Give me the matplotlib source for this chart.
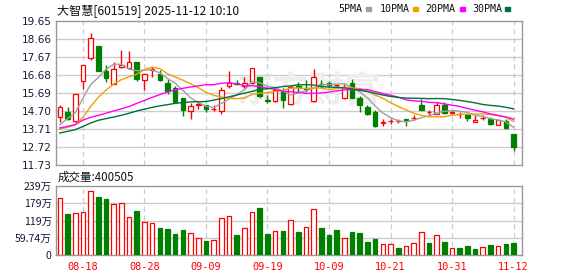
import matplotlib
matplotlib.use('Agg')
import matplotlib.pyplot as plt
from matplotlib.patches import Rectangle
import numpy as np
import pandas as pd

plt.rcParams['font.family'] = ['DejaVu Sans']

# ---------------- data ----------------
title_text = '大智慧[601519] 2025-11-12 10:10'
vol_title = '成交量:400505'

opens = [14.39, 14.63, 14.15, 16.35, 17.64, 18.26, 16.88, 16.21, 17.12, 17.06,
         17.39, 16.41, 16.93, 16.75, 16.24, 15.98, 15.40, 14.72, 15.05, 15.05,
         14.80, 14.72, 16.09, 16.22, 16.09, 16.26, 16.55, 15.29, 15.25, 15.82,
         15.09, 16.06, 15.98, 15.25, 16.21, 16.22, 16.11, 15.40, 16.26, 15.40,
         14.94, 14.63, 14.06, 14.13, 14.14, 14.25, 14.32, 15.01, 14.62, 14.55,
         15.01, 14.60, 14.54, 14.46, 14.10, 14.31, 14.28, 13.91, 14.13, 13.42]
highs = [15.01, 14.90, 15.66, 17.22, 18.99, 18.26, 17.22, 17.39, 18.08, 17.99,
         17.39, 16.75, 17.10, 16.93, 16.44, 16.05, 15.43, 15.12, 15.21, 15.05,
         15.03, 16.00, 16.92, 16.41, 16.55, 17.08, 16.55, 15.58, 15.98, 15.98,
         16.13, 16.31, 16.41, 17.00, 16.41, 16.35, 16.20, 16.17, 16.44, 15.53,
         15.03, 14.76, 14.25, 14.28, 14.26, 14.25, 14.46, 15.34, 14.74, 15.20,
         15.20, 14.70, 14.65, 14.50, 14.50, 14.46, 14.37, 14.22, 14.24, 13.45]
lows = [14.08, 14.23, 14.12, 15.90, 17.53, 16.90, 16.30, 16.21, 17.08, 17.01,
        16.35, 15.84, 16.57, 16.35, 15.66, 15.15, 14.44, 14.26, 14.81, 14.66,
        14.72, 14.54, 15.95, 16.13, 15.95, 16.17, 15.40, 15.12, 15.21, 14.85,
        15.03, 15.76, 15.76, 15.18, 15.95, 15.95, 15.95, 15.36, 15.43, 14.66,
        14.48, 13.80, 13.90, 13.98, 14.02, 13.86, 14.22, 14.74, 14.50, 14.52,
        14.52, 14.52, 14.32, 14.13, 14.10, 14.22, 13.91, 13.91, 13.73, 12.48]
closes = [14.93, 14.26, 15.64, 17.22, 18.70, 16.90, 16.52, 17.01, 17.21, 17.39,
          16.44, 16.73, 17.01, 16.41, 15.81, 15.18, 14.76, 14.99, 15.09, 14.81,
          14.82, 15.86, 16.24, 16.17, 16.26, 17.08, 15.50, 15.26, 15.86, 15.31,
          16.00, 16.02, 15.89, 16.56, 16.17, 16.13, 16.15, 16.00, 15.43, 15.03,
          14.54, 13.88, 14.08, 14.15, 14.16, 14.23, 14.34, 14.77, 14.64, 15.05,
          14.57, 14.62, 14.56, 14.30, 14.22, 14.33, 13.97, 14.22, 13.78, 12.72]
volumes_wan = [196, 143, 145, 149, 222, 202, 194, 177, 180, 131,
               152, 114, 111, 93.5, 90, 74, 87, 76, 59, 48.5,
               52, 127, 134, 69, 92, 148, 163, 73, 82, 83,
               120, 80, 96, 158, 93.5, 69, 87, 58, 80, 76,
               46, 55, 37, 37, 24, 30, 41.5, 80, 41.5, 69,
               45, 24, 24, 31, 21, 27, 35, 31, 38, 40.0505]
vol_up = [1, 0, 1, 1, 1, 0, 0, 1, 1, 1,
          0, 1, 1, 0, 0, 0, 0, 1, 1, 0,
          1, 1, 1, 0, 1, 1, 0, 0, 1, 0,
          1, 0, 1, 1, 0, 0, 0, 1, 0, 0,
          0, 0, 1, 1, 0, 1, 1, 1, 0, 1,
          0, 1, 0, 0, 0, 1, 0, 1, 0, 0]

# moving-average values read from the chart where the window is not yet full
ma5_head = [13.95, 14.28, 14.60, 15.40]
ma10_head = [13.72, 13.80, 13.95, 14.35, 14.95, 15.45, 15.85, 16.18, 16.42]
ma20_head = [13.77, 13.85, 13.95, 14.20, 14.35, 14.46, 14.58, 14.70, 14.82, 14.95,
             15.12, 15.28, 15.45, 15.60, 15.75, 15.86, 15.95, 16.02, 16.08]
ma30_head = [13.49, 13.58, 13.67, 13.85, 14.04, 14.19, 14.28, 14.37, 14.46, 14.58,
             14.70, 14.80, 14.90, 14.98, 15.05, 15.12, 15.17, 15.20, 15.21, 15.22,
             15.30, 15.38, 15.48, 15.58, 15.68, 15.78, 15.88, 15.93, 15.98]

tick_pos = [3, 11, 19, 27, 35, 43, 51, 59]
tick_labels = ['08-18', '08-28', '09-09', '09-19', '10-09', '10-21', '10-31', '11-12']
price_ticks = [19.65, 18.66, 17.67, 16.68, 15.69, 14.70, 13.71, 12.72, 11.73]
vol_ticks = [0, 597400, 1194800, 1792200, 2389600]
vol_tick_labels = ['0', '59.74万', '119万', '179万', '239万']
legend_names = ['5PMA', '10PMA', '20PMA', '30PMA']
watermark = '东方财富'

# ---------------- styles ----------------
RED = '#ff0000'
GREEN = '#008000'
MA_COLORS = ['#a0a0a0', '#f0a000', '#ff00ff', '#006f3c']
GRID = '#cccccc'
FRAME = '#999999'
LABEL = '#1a1a3a'
CJK = ['Noto Sans CJK SC', 'DejaVu Sans']

W, H = 578, 276
fig = plt.figure(figsize=(W / 100, H / 100), dpi=100)
fig.patch.set_facecolor('white')

L, R = 56, 522
ax1 = fig.add_axes([L / W, 1 - 165 / H, (R - L) / W, (165 - 21) / H])
ax2 = fig.add_axes([L / W, 1 - 255 / H, (R - L) / W, (255 - 186) / H])

o = np.array(opens); h = np.array(highs); lo = np.array(lows); c = np.array(closes)
n = len(c)
x = np.arange(n)
up = c >= o


def moving_avg(head, win):
    s = pd.Series(closes).rolling(win).mean().to_numpy()
    s[:win - 1] = head
    return s


mas = [moving_avg(ma5_head, 5), moving_avg(ma10_head, 10),
       moving_avg(ma20_head, 20), moving_avg(ma30_head, 30)]

for ax in (ax1, ax2):
    ax.set_xlim(-0.5, 60.1)
    for s in ax.spines.values():
        s.set_color(FRAME)
        s.set_linewidth(1.0)
    ax.tick_params(length=0, colors=LABEL, labelsize=7.6, pad=3)
    ax.vlines(tick_pos, 0, 1, transform=ax.get_xaxis_transform(), colors=GRID,
              linewidth=0.9, linestyles=(0, (4, 3)), zorder=0.5)

# price panel
ax1.set_ylim(11.73, 19.65)
ax1.set_yticks(price_ticks)
ax1.set_yticklabels(['%.2f' % v for v in price_ticks])
ax1.set_xticks([])
for v in price_ticks[1:-1]:
    ax1.axhline(v, color=GRID, linewidth=1.0, zorder=0.5)

ax1.text(309 / W, 1 - 91 / H, watermark, transform=fig.transFigure, ha='center', va='center',
         fontsize=26, color='#ededed', fontweight='bold', fontstyle='italic',
         family=CJK, zorder=1)

cols = np.where(up, RED, GREEN)
ax1.vlines(x, lo, h, colors=cols, linewidth=1.0, zorder=2)
body_b = np.minimum(o, c)
body_h = np.maximum(np.abs(c - o), 0.015)
ax1.bar(x, body_h, bottom=body_b, width=0.6, color=np.where(up, 'white', GREEN),
        edgecolor=cols, linewidth=0.9, zorder=3)
for m, col in zip(mas, MA_COLORS):
    ax1.plot(x, m, color=col, linewidth=1.0, zorder=4)

# volume panel
vols = np.array(volumes_wan) * 10000
vu = np.array(vol_up).astype(bool)
ax2.set_ylim(0, vol_ticks[-1])
ax2.set_yticks(vol_ticks)
ax2.set_yticklabels(vol_tick_labels, family=CJK)
for v in vol_ticks[1:-1]:
    ax2.axhline(v, color=GRID, linewidth=1.0, zorder=0.5)
ax2.bar(x, vols, width=0.6, color=np.where(vu, 'white', GREEN),
        edgecolor=np.where(vu, RED, GREEN), linewidth=0.9, zorder=3)
ax2.set_xticks(tick_pos)
ax2.set_xticklabels(tick_labels, family='DejaVu Sans Mono', color=RED, fontsize=7.4)
ax2.tick_params(axis='x', pad=5)

# titles
fig.text(57 / W, 1 - 11 / H, title_text, fontsize=8.7, family=CJK, va='center', ha='left',
         color='#111111')
fig.text(58 / W, 1 - 177 / H, vol_title, fontsize=8.3, family=CJK, va='center', ha='left',
         color='#111111')

# MA legend
leg_x = [338, 380, 425, 472]
sq_x = [366, 413, 460, 505]
for name, tx, sx, col in zip(legend_names, leg_x, sq_x, MA_COLORS):
    fig.text(tx / W, 1 - 9 / H, name, fontsize=7.2, family='DejaVu Sans Mono',
             va='center', ha='left', color='#111111')
    fig.patches.append(Rectangle((sx / W, 1 - 10.5 / H), 5 / W, 3 / H,
                                 transform=fig.transFigure, color=col))

fig.savefig('out.png', dpi=100)
